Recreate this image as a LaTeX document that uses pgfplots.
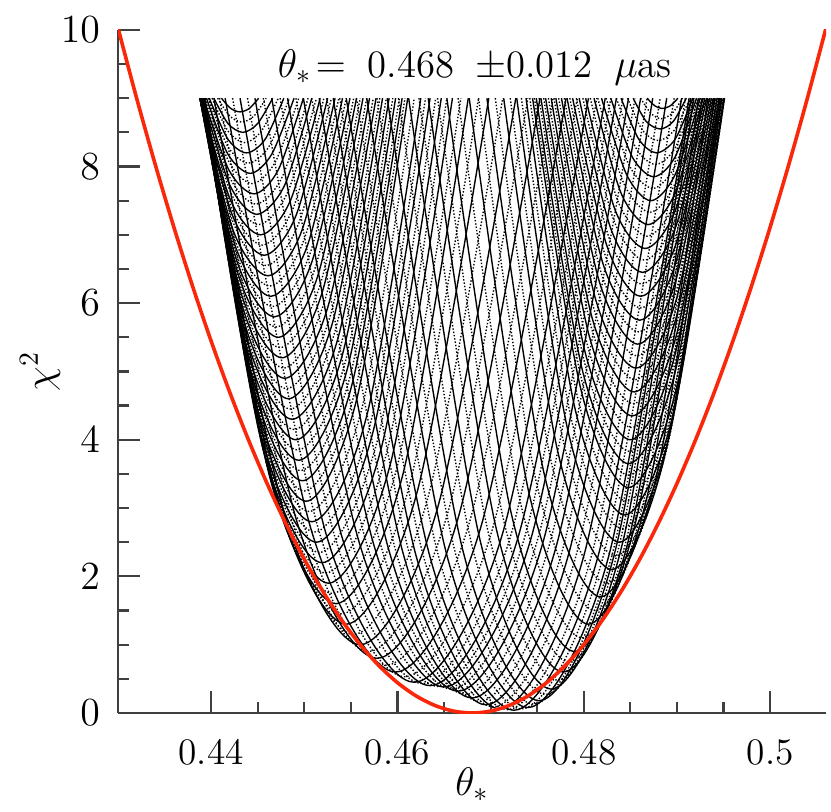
\documentclass[border=0pt]{standalone}
\usepackage{pgfplots}
\pgfplotsset{compat=1.18}
\definecolor{chired}{RGB}{250,40,10}
\pgfplotsset{
  sc/.style={black, line width=0.5pt, smooth},
  dc/.style={black, line width=0.5pt, dash pattern=on 0.5pt off 0.7pt, smooth},
}
\begin{document}
\begin{tikzpicture}
\begin{axis}[
  name=ax,
  scale only axis, width=255.6pt, height=246.6pt,
  xmin=0.43, xmax=0.506, ymin=0, ymax=10,
  axis lines=left, axis line style={-, black!75, line width=0.8pt},
  tick align=inside,
  xtick={0.44,0.46,0.48,0.5}, xticklabels={0.44,0.46,0.48,0.5},
  scaled x ticks=false,
  minor x tick num=3,
  ytick={0,2,4,6,8,10}, minor y tick num=3,
  major tick length=8pt, minor tick length=4pt,
  every tick/.style={black!75, line width=0.8pt},
  tick label style={font=\fontsize{13.5}{16}\selectfont},
  xticklabel style={yshift=-6pt},
  yticklabel style={xshift=-3pt},
  xlabel={$\theta_*$}, ylabel={$\chi^2$},
  label style={font=\fontsize{14.5}{16}\selectfont},
  xlabel style={at={(axis description cs:0.5,-0.105)}, anchor=center},
  ylabel style={at={(axis description cs:-0.11,0.5)}, anchor=center},
  clip=true,
]
% left arm
\addplot[sc] coordinates {(0.4411,9)(0.4421,8.85)(0.4431,8.8)(0.4441,8.85)(0.4451,9)};
\addplot[sc] coordinates {(0.4403,9)(0.4418,8.63)(0.4434,8.5)(0.4450,8.63)(0.4466,9)};
\addplot[sc] coordinates {(0.4398,9)(0.4418,8.4)(0.4438,8.2)(0.4458,8.4)(0.4478,9)};
\addplot[sc] coordinates {(0.4395,9)(0.4418,8.18)(0.4442,7.9)(0.4465,8.18)(0.4489,9)};
\addplot[sc] coordinates {(0.4392,9)(0.4419,7.95)(0.4446,7.6)(0.4472,7.95)(0.4499,9)};
\addplot[sc] coordinates {(0.4391,9)(0.4420,7.73)(0.4449,7.3)(0.4479,7.73)(0.4508,9)};
\addplot[sc] coordinates {(0.4389,9)(0.4421,7.5)(0.4453,7.0)(0.4485,7.5)(0.4517,9)};
\addplot[sc] coordinates {(0.4389,9)(0.4423,7.28)(0.4457,6.7)(0.4491,7.28)(0.4525,9)};
\addplot[sc] coordinates {(0.4388,9)(0.4424,7.05)(0.4461,6.4)(0.4497,7.05)(0.4533,9)};
\addplot[sc] coordinates {(0.4388,9)(0.4426,6.83)(0.4464,6.1)(0.4503,6.83)(0.4541,9)};
\addplot[sc] coordinates {(0.4388,9)(0.4428,6.6)(0.4468,5.8)(0.4508,6.6)(0.4549,9)};
\addplot[sc] coordinates {(0.4388,9)(0.4430,6.38)(0.4472,5.5)(0.4514,6.38)(0.4556,9)};
\addplot[sc] coordinates {(0.4388,9)(0.4432,6.15)(0.4476,5.2)(0.4519,6.15)(0.4563,9)};
\addplot[sc] coordinates {(0.4388,9)(0.4434,5.93)(0.4479,4.9)(0.4525,5.93)(0.4570,9)};
\addplot[sc] coordinates {(0.4389,9)(0.4436,5.7)(0.4483,4.6)(0.4530,5.7)(0.4577,9)};
\addplot[sc] coordinates {(0.4389,9)(0.4438,5.48)(0.4487,4.3)(0.4536,5.48)(0.4584,9)};
\addplot[sc] coordinates {(0.4390,9)(0.4440,5.25)(0.4491,4.0)(0.4541,5.25)(0.4591,9)};
\addplot[sc] coordinates {(0.4391,9)(0.4442,5.03)(0.4494,3.7)(0.4546,5.03)(0.4598,9)};
\addplot[sc] coordinates {(0.4392,9)(0.4445,4.8)(0.4498,3.4)(0.4551,4.8)(0.4605,9)};
\addplot[sc] coordinates {(0.4392,9)(0.4447,4.58)(0.4502,3.1)(0.4556,4.58)(0.4611,9)};
\addplot[sc] coordinates {(0.4391,9)(0.4450,4.35)(0.4508,2.8)(0.4567,4.35)(0.4625,9)};
\addplot[sc] coordinates {(0.4391,9)(0.4452,4.13)(0.4513,2.5)(0.4574,4.13)(0.4635,9)};
\addplot[sc] coordinates {(0.4391,9)(0.4455,3.9)(0.4519,2.2)(0.4583,3.9)(0.4647,9)};
\addplot[sc] coordinates {(0.4393,9)(0.4459,3.68)(0.4526,1.9)(0.4593,3.68)(0.4659,9)};
\addplot[sc] coordinates {(0.4393,9)(0.4463,3.45)(0.4534,1.6)(0.4605,3.45)(0.4676,9)};
\addplot[sc] coordinates {(0.4392,9)(0.4469,3.23)(0.4545,1.3)(0.4621,3.23)(0.4698,9)};
\addplot[sc] coordinates {(0.4393,9)(0.4477,3.0)(0.4560,1.0)(0.4643,3.0)(0.4727,9)};
\addplot[sc] coordinates {(0.4403,9)(0.4491,2.85)(0.4578,0.8)(0.4665,2.85)(0.4753,9)};
\addplot[sc] coordinates {(0.4415,9)(0.4507,2.7)(0.4598,0.6)(0.4689,2.7)(0.4781,9)};
% bottom
\addplot[sc] coordinates {(0.4431,9)(0.4524,2.59)(0.4618,0.45)(0.4712,2.59)(0.4805,9)};
\addplot[sc] coordinates {(0.4447,9)(0.4541,2.55)(0.4635,0.40)(0.4729,2.55)(0.4823,9)};
\addplot[sc] coordinates {(0.4465,9)(0.4558,2.54)(0.4650,0.38)(0.4743,2.54)(0.4835,9)};
\addplot[sc] coordinates {(0.4482,9)(0.4574,2.49)(0.4665,0.32)(0.4756,2.49)(0.4848,9)};
\addplot[sc] coordinates {(0.4499,9)(0.4590,2.42)(0.4680,0.22)(0.4770,2.42)(0.4861,9)};
\addplot[sc] coordinates {(0.4516,9)(0.4606,2.34)(0.4695,0.12)(0.4784,2.34)(0.4874,9)};
\addplot[sc] coordinates {(0.4531,9)(0.4620,2.30)(0.4710,0.06)(0.4800,2.30)(0.4889,9)};
\addplot[sc] coordinates {(0.4545,9)(0.4635,2.28)(0.4725,0.04)(0.4815,2.28)(0.4905,9)};
\addplot[sc] coordinates {(0.4567,9)(0.4653,2.31)(0.4740,0.08)(0.4827,2.31)(0.4913,9)};
\addplot[sc] coordinates {(0.4589,9)(0.4670,2.39)(0.4752,0.18)(0.4834,2.39)(0.4915,9)};
% right arm
\addplot[sc] coordinates {(0.4612,9)(0.4689,2.51)(0.4765,0.35)(0.4842,2.51)(0.4918,9)};
\addplot[sc] coordinates {(0.4633,9)(0.4706,2.7)(0.4778,0.6)(0.4851,2.7)(0.4923,9)};
\addplot[sc] coordinates {(0.4653,9)(0.4722,2.93)(0.4790,0.9)(0.4858,2.93)(0.4927,9)};
\addplot[sc] coordinates {(0.4677,9)(0.4741,3.23)(0.4805,1.3)(0.4869,3.23)(0.4933,9)};
\addplot[sc] coordinates {(0.4696,9)(0.4757,3.53)(0.4818,1.7)(0.4879,3.53)(0.4940,9)};
\addplot[sc] coordinates {(0.4714,9)(0.4772,3.83)(0.4830,2.1)(0.4888,3.83)(0.4946,9)};
\addplot[sc] coordinates {(0.4728,9)(0.4783,4.13)(0.4838,2.5)(0.4893,4.13)(0.4948,9)};
\addplot[sc] coordinates {(0.4738,9)(0.4791,4.43)(0.4844,2.9)(0.4897,4.43)(0.4950,9)};
\addplot[sc] coordinates {(0.4745,9)(0.4797,4.73)(0.4848,3.3)(0.4899,4.73)(0.4951,9)};
\addplot[sc] coordinates {(0.4749,9)(0.4799,4.99)(0.4848,3.65)(0.4898,4.99)(0.4948,9)};
\addplot[sc] coordinates {(0.4754,9)(0.4802,5.25)(0.4850,4.0)(0.4898,5.25)(0.4946,9)};
\addplot[sc] coordinates {(0.4759,9)(0.4806,5.51)(0.4852,4.35)(0.4899,5.51)(0.4945,9)};
\addplot[sc] coordinates {(0.4765,9)(0.4809,5.78)(0.4854,4.7)(0.4899,5.78)(0.4943,9)};
\addplot[sc] coordinates {(0.4770,9)(0.4813,6.04)(0.4856,5.05)(0.4899,6.04)(0.4941,9)};
\addplot[sc] coordinates {(0.4776,9)(0.4817,6.3)(0.4858,5.4)(0.4898,6.3)(0.4939,9)};
\addplot[sc] coordinates {(0.4782,9)(0.4821,6.56)(0.4860,5.75)(0.4898,6.56)(0.4937,9)};
\addplot[sc] coordinates {(0.4788,9)(0.4825,6.83)(0.4861,6.1)(0.4898,6.83)(0.4935,9)};
\addplot[sc] coordinates {(0.4795,9)(0.4829,7.09)(0.4863,6.45)(0.4898,7.09)(0.4932,9)};
\addplot[sc] coordinates {(0.4802,9)(0.4834,7.35)(0.4866,6.8)(0.4898,7.35)(0.4930,9)};
\addplot[sc] coordinates {(0.4811,9)(0.4840,7.61)(0.4869,7.15)(0.4898,7.61)(0.4928,9)};
\addplot[sc] coordinates {(0.4819,9)(0.4846,7.88)(0.4872,7.5)(0.4898,7.88)(0.4925,9)};
\addplot[sc] coordinates {(0.4829,9)(0.4852,8.14)(0.4875,7.85)(0.4898,8.14)(0.4921,9)};
\addplot[sc] coordinates {(0.4840,9)(0.4859,8.4)(0.4878,8.2)(0.4898,8.4)(0.4917,9)};
\addplot[sc] coordinates {(0.4853,9)(0.4867,8.66)(0.4882,8.55)(0.4896,8.66)(0.4910,9)};
\addplot[sc] coordinates {(0.4868,9)(0.4876,8.89)(0.4884,8.85)(0.4893,8.89)(0.4901,9)};
% dotted, between the solid ones
\addplot[dc] coordinates {(0.4407,9)(0.4420,8.74)(0.4433,8.65)(0.4446,8.74)(0.4459,9)};
\addplot[dc] coordinates {(0.4401,9)(0.4418,8.52)(0.4436,8.35)(0.4454,8.52)(0.4472,9)};
\addplot[dc] coordinates {(0.4397,9)(0.4418,8.29)(0.4440,8.05)(0.4462,8.29)(0.4484,9)};
\addplot[dc] coordinates {(0.4394,9)(0.4419,8.07)(0.4444,7.75)(0.4469,8.07)(0.4494,9)};
\addplot[dc] coordinates {(0.4392,9)(0.4420,7.84)(0.4448,7.45)(0.4476,7.84)(0.4504,9)};
\addplot[dc] coordinates {(0.4390,9)(0.4421,7.62)(0.4451,7.15)(0.4482,7.62)(0.4513,9)};
\addplot[dc] coordinates {(0.4389,9)(0.4422,7.39)(0.4455,6.85)(0.4488,7.39)(0.4521,9)};
\addplot[dc] coordinates {(0.4389,9)(0.4424,7.17)(0.4459,6.55)(0.4494,7.17)(0.4529,9)};
\addplot[dc] coordinates {(0.4388,9)(0.4425,6.94)(0.4463,6.25)(0.4500,6.94)(0.4537,9)};
\addplot[dc] coordinates {(0.4388,9)(0.4427,6.72)(0.4466,5.95)(0.4506,6.72)(0.4545,9)};
\addplot[dc] coordinates {(0.4388,9)(0.4429,6.49)(0.4470,5.65)(0.4511,6.49)(0.4553,9)};
\addplot[dc] coordinates {(0.4388,9)(0.4431,6.27)(0.4474,5.35)(0.4517,6.27)(0.4560,9)};
\addplot[dc] coordinates {(0.4388,9)(0.4433,6.04)(0.4478,5.05)(0.4522,6.04)(0.4567,9)};
\addplot[dc] coordinates {(0.4389,9)(0.4435,5.82)(0.4481,4.75)(0.4528,5.82)(0.4574,9)};
\addplot[dc] coordinates {(0.4389,9)(0.4437,5.59)(0.4485,4.45)(0.4533,5.59)(0.4581,9)};
\addplot[dc] coordinates {(0.4390,9)(0.4439,5.37)(0.4489,4.15)(0.4539,5.37)(0.4588,9)};
\addplot[dc] coordinates {(0.4391,9)(0.4441,5.14)(0.4493,3.85)(0.4544,5.14)(0.4595,9)};
\addplot[dc] coordinates {(0.4392,9)(0.4444,4.92)(0.4496,3.55)(0.4549,4.92)(0.4602,9)};
\addplot[dc] coordinates {(0.4392,9)(0.4446,4.69)(0.4500,3.25)(0.4554,4.69)(0.4608,9)};
\addplot[dc] coordinates {(0.4392,9)(0.4449,4.47)(0.4505,2.95)(0.4562,4.47)(0.4618,9)};
\addplot[dc] coordinates {(0.4391,9)(0.4451,4.24)(0.4511,2.65)(0.4571,4.24)(0.4630,9)};
\addplot[dc] coordinates {(0.4391,9)(0.4454,4.02)(0.4516,2.35)(0.4579,4.02)(0.4641,9)};
\addplot[dc] coordinates {(0.4392,9)(0.4457,3.79)(0.4523,2.05)(0.4588,3.79)(0.4653,9)};
\addplot[dc] coordinates {(0.4393,9)(0.4461,3.57)(0.4530,1.75)(0.4599,3.57)(0.4668,9)};
\addplot[dc] coordinates {(0.4393,9)(0.4466,3.34)(0.4540,1.45)(0.4613,3.34)(0.4687,9)};
\addplot[dc] coordinates {(0.4393,9)(0.4473,3.12)(0.4553,1.15)(0.4632,3.12)(0.4713,9)};
\addplot[dc] coordinates {(0.4398,9)(0.4484,2.93)(0.4569,0.9)(0.4654,2.93)(0.4740,9)};
\addplot[dc] coordinates {(0.4409,9)(0.4499,2.78)(0.4588,0.7)(0.4677,2.78)(0.4767,9)};
\addplot[dc] coordinates {(0.4423,9)(0.4516,2.65)(0.4608,0.53)(0.4701,2.65)(0.4793,9)};
\addplot[dc] coordinates {(0.4439,9)(0.4533,2.57)(0.4627,0.43)(0.4721,2.57)(0.4814,9)};
\addplot[dc] coordinates {(0.4456,9)(0.4550,2.55)(0.4643,0.39)(0.4736,2.55)(0.4829,9)};
\addplot[dc] coordinates {(0.4474,9)(0.4566,2.52)(0.4658,0.35)(0.4750,2.52)(0.4842,9)};
\addplot[dc] coordinates {(0.4491,9)(0.4582,2.46)(0.4673,0.27)(0.4763,2.46)(0.4855,9)};
\addplot[dc] coordinates {(0.4508,9)(0.4598,2.38)(0.4688,0.17)(0.4777,2.38)(0.4868,9)};
\addplot[dc] coordinates {(0.4524,9)(0.4613,2.32)(0.4703,0.09)(0.4792,2.32)(0.4882,9)};
\addplot[dc] coordinates {(0.4538,9)(0.4628,2.29)(0.4718,0.05)(0.4808,2.29)(0.4897,9)};
\addplot[dc] coordinates {(0.4556,9)(0.4644,2.30)(0.4733,0.06)(0.4821,2.30)(0.4909,9)};
\addplot[dc] coordinates {(0.4578,9)(0.4662,2.35)(0.4746,0.13)(0.4831,2.35)(0.4914,9)};
\addplot[dc] coordinates {(0.4601,9)(0.4680,2.45)(0.4759,0.27)(0.4838,2.45)(0.4917,9)};
\addplot[dc] coordinates {(0.4623,9)(0.4698,2.61)(0.4772,0.48)(0.4847,2.61)(0.4921,9)};
\addplot[dc] coordinates {(0.4643,9)(0.4714,2.82)(0.4784,0.75)(0.4855,2.82)(0.4925,9)};
\addplot[dc] coordinates {(0.4665,9)(0.4732,3.08)(0.4798,1.1)(0.4864,3.08)(0.4930,9)};
\addplot[dc] coordinates {(0.4687,9)(0.4749,3.38)(0.4812,1.5)(0.4874,3.38)(0.4937,9)};
\addplot[dc] coordinates {(0.4705,9)(0.4765,3.68)(0.4824,1.9)(0.4884,3.68)(0.4943,9)};
\addplot[dc] coordinates {(0.4721,9)(0.4778,3.98)(0.4834,2.3)(0.4891,3.98)(0.4947,9)};
\addplot[dc] coordinates {(0.4733,9)(0.4787,4.28)(0.4841,2.7)(0.4895,4.28)(0.4949,9)};
\addplot[dc] coordinates {(0.4742,9)(0.4794,4.58)(0.4846,3.1)(0.4898,4.58)(0.4951,9)};
\addplot[dc] coordinates {(0.4747,9)(0.4798,4.86)(0.4848,3.48)(0.4899,4.86)(0.4950,9)};
\addplot[dc] coordinates {(0.4752,9)(0.4801,5.12)(0.4849,3.83)(0.4898,5.12)(0.4947,9)};
\addplot[dc] coordinates {(0.4757,9)(0.4804,5.38)(0.4851,4.18)(0.4899,5.38)(0.4946,9)};
\addplot[dc] coordinates {(0.4762,9)(0.4808,5.65)(0.4853,4.53)(0.4899,5.65)(0.4944,9)};
\addplot[dc] coordinates {(0.4768,9)(0.4811,5.91)(0.4855,4.88)(0.4899,5.91)(0.4942,9)};
\addplot[dc] coordinates {(0.4773,9)(0.4815,6.17)(0.4857,5.23)(0.4899,6.17)(0.4940,9)};
\addplot[dc] coordinates {(0.4779,9)(0.4819,6.43)(0.4859,5.58)(0.4898,6.43)(0.4938,9)};
\addplot[dc] coordinates {(0.4785,9)(0.4823,6.70)(0.4861,5.93)(0.4898,6.70)(0.4936,9)};
\addplot[dc] coordinates {(0.4792,9)(0.4827,6.96)(0.4862,6.28)(0.4898,6.96)(0.4934,9)};
\addplot[dc] coordinates {(0.4799,9)(0.4832,7.22)(0.4865,6.63)(0.4898,7.22)(0.4931,9)};
\addplot[dc] coordinates {(0.4807,9)(0.4837,7.48)(0.4868,6.98)(0.4898,7.48)(0.4929,9)};
\addplot[dc] coordinates {(0.4815,9)(0.4843,7.75)(0.4871,7.33)(0.4898,7.75)(0.4927,9)};
\addplot[dc] coordinates {(0.4824,9)(0.4849,8.01)(0.4874,7.68)(0.4898,8.01)(0.4923,9)};
\addplot[dc] coordinates {(0.4835,9)(0.4856,8.27)(0.4877,8.03)(0.4898,8.27)(0.4919,9)};
\addplot[dc] coordinates {(0.4847,9)(0.4863,8.53)(0.4880,8.38)(0.4897,8.53)(0.4914,9)};
\addplot[dc] coordinates {(0.4861,9)(0.4872,8.78)(0.4883,8.70)(0.4895,8.78)(0.4906,9)};
% the fit
\addplot[chired, line width=1.3pt, smooth] coordinates {
(0.430,10.028)(0.432,9.0)(0.434,8.028)(0.436,7.111)(0.438,6.25)(0.440,5.444)
(0.442,4.694)(0.444,4.0)(0.446,3.361)(0.448,2.778)(0.450,2.25)(0.452,1.778)
(0.454,1.361)(0.456,1.0)(0.458,0.694)(0.460,0.444)(0.462,0.25)(0.464,0.111)
(0.466,0.028)(0.468,0.0)(0.470,0.028)(0.472,0.111)(0.474,0.25)(0.476,0.444)
(0.478,0.694)(0.480,1.0)(0.482,1.361)(0.484,1.778)(0.486,2.25)(0.488,2.778)
(0.490,3.361)(0.492,4.0)(0.494,4.694)(0.496,5.444)(0.498,6.25)(0.500,7.111)
(0.502,8.028)(0.504,9.0)(0.506,10.028)};
\node[font=\fontsize{14}{16}\selectfont] at (axis cs:0.4683,9.45)
  {$\theta_*\!=$\hspace{0.55em}0.468\hspace{0.55em}$\pm$0.012\hspace{0.55em}$\mu$as};
\end{axis}
\pgfresetboundingbox
\path[use as bounding box] ([xshift=-42.6pt,yshift=-35.4pt]ax.south west)
  rectangle ([xshift=1.8pt,yshift=10.8pt]ax.north east);
\end{tikzpicture}
\end{document}
